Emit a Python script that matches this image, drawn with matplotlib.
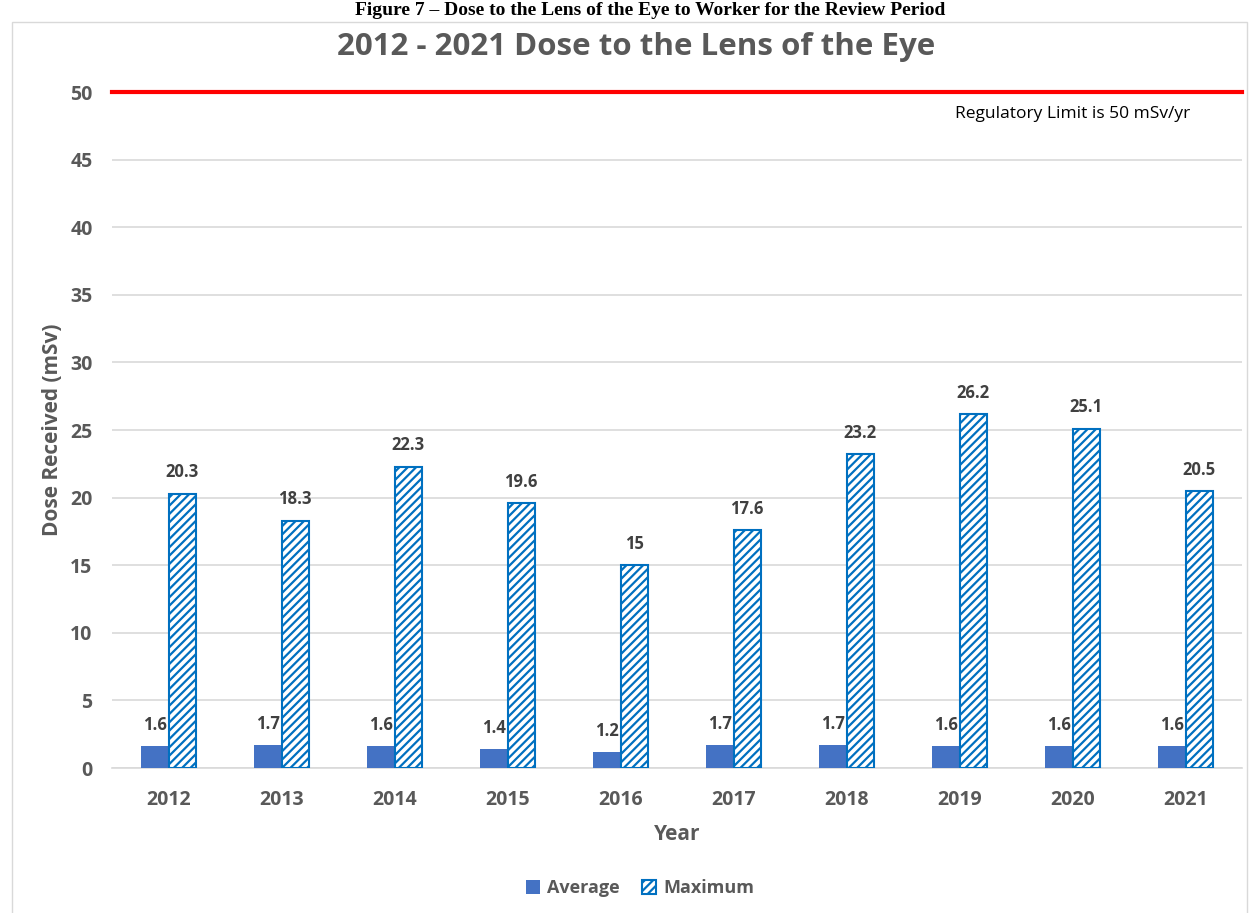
import matplotlib
matplotlib.use("Agg")
import matplotlib.pyplot as plt
import numpy as np
from matplotlib.patches import Rectangle, Patch

years = ["2012", "2013", "2014", "2015", "2016", "2017", "2018", "2019", "2020", "2021"]
average = [1.6, 1.7, 1.6, 1.4, 1.2, 1.7, 1.7, 1.6, 1.6, 1.6]
maximum = [20.3, 18.3, 22.3, 19.6, 15, 17.6, 23.2, 26.2, 25.1, 20.5]
limit = 50

plt.rcParams['font.family'] = ['Open Sans', 'DejaVu Sans']
plt.rcParams['hatch.linewidth'] = 1.6
plt.rcParams['hatch.color'] = '#0070C0'

fig = plt.figure(figsize=(12.52, 9.13), dpi=100)
W, H = 1252, 913
ax = fig.add_axes([112 / W, 1 - 768 / H, (1242 - 112) / W, (768 - 92) / H])

# outer chart border
fig.patches.append(Rectangle((12 / W, -0.01), (1247 - 12) / W, 1 - 22 / H + 0.01,
                             transform=fig.transFigure, fill=False,
                             edgecolor='#D9D9D9', lw=1.0, zorder=0))

# caption above chart
fig.text(650 / W, 1 - 15 / H, "Figure 7 \u2013 Dose to the Lens of the Eye to Worker for the Review Period",
         ha='center', va='baseline', family='Liberation Serif', fontweight='bold', fontsize=14)

x = np.arange(len(years))
w = 0.24
ax.bar(x - w / 2, average, width=w, color='#4472C4', zorder=3)
ax.bar(x + w / 2, maximum, width=w, color='white', edgecolor='#0070C0',
       hatch='////', lw=1.5, zorder=3)

for xi, v in zip(x, average):
    ax.text(xi - w / 2, v + 0.9, f"{v:g}", ha='center', va='bottom',
            fontsize=12, fontweight='bold', color='#404040')
for xi, v in zip(x, maximum):
    ax.text(xi + w / 2, v + 0.9, f"{v:g}", ha='center', va='bottom',
            fontsize=12, fontweight='bold', color='#404040')

ax.axhline(limit, color='#FF0000', lw=3, zorder=4, clip_on=False)
ax.text(8.0, 48.4, "Regulatory Limit is 50 mSv/yr", ha='center', va='center',
        fontsize=12.5, color='#000000')

ax.set_xlim(-0.5, len(years) - 0.5)
ax.set_ylim(0, 50)
ax.set_yticks(np.arange(0, 51, 5))
ax.set_xticks(x)
ax.set_xticklabels(years)
for lab in ax.get_xticklabels() + ax.get_yticklabels():
    lab.set_fontweight('bold')
    lab.set_color('#595959')
    lab.set_fontsize(14)
ax.tick_params(axis='both', length=0)
ax.tick_params(axis='x', pad=16)
ax.tick_params(axis='y', pad=14)
ax.grid(axis='y', color='#D9D9D9', lw=1.2, zorder=0)
ax.set_axisbelow(True)
for s in ['top', 'right', 'left']:
    ax.spines[s].set_visible(False)
ax.spines['bottom'].set_color('#D9D9D9')
ax.spines['bottom'].set_linewidth(1.2)

ax.set_ylabel("Dose Received (mSv)", fontsize=15, fontweight='bold', color='#595959', labelpad=5)
ax.set_xlabel("Year", fontsize=15, fontweight='bold', color='#595959', labelpad=10)

fig.text(636 / W, 1 - 47 / H, "2012 - 2021 Dose to the Lens of the Eye", ha='center', va='center',
         fontsize=22.5, fontweight='bold', color='#595959')

handles = [Patch(facecolor='#4472C4', label='Average'),
           Patch(facecolor='white', edgecolor='#0070C0', hatch='////', lw=1.5, label='Maximum')]
leg = fig.legend(handles=handles, loc='center', bbox_to_anchor=(640 / W, 1 - 888 / H), ncol=2,
                 frameon=False, handlelength=0.8, handleheight=0.8, columnspacing=1.2, handletextpad=0.4,
                 prop={'size': 13, 'weight': 'bold'})
for t in leg.get_texts():
    t.set_color('#595959')

fig.savefig("out.png", dpi=100)
